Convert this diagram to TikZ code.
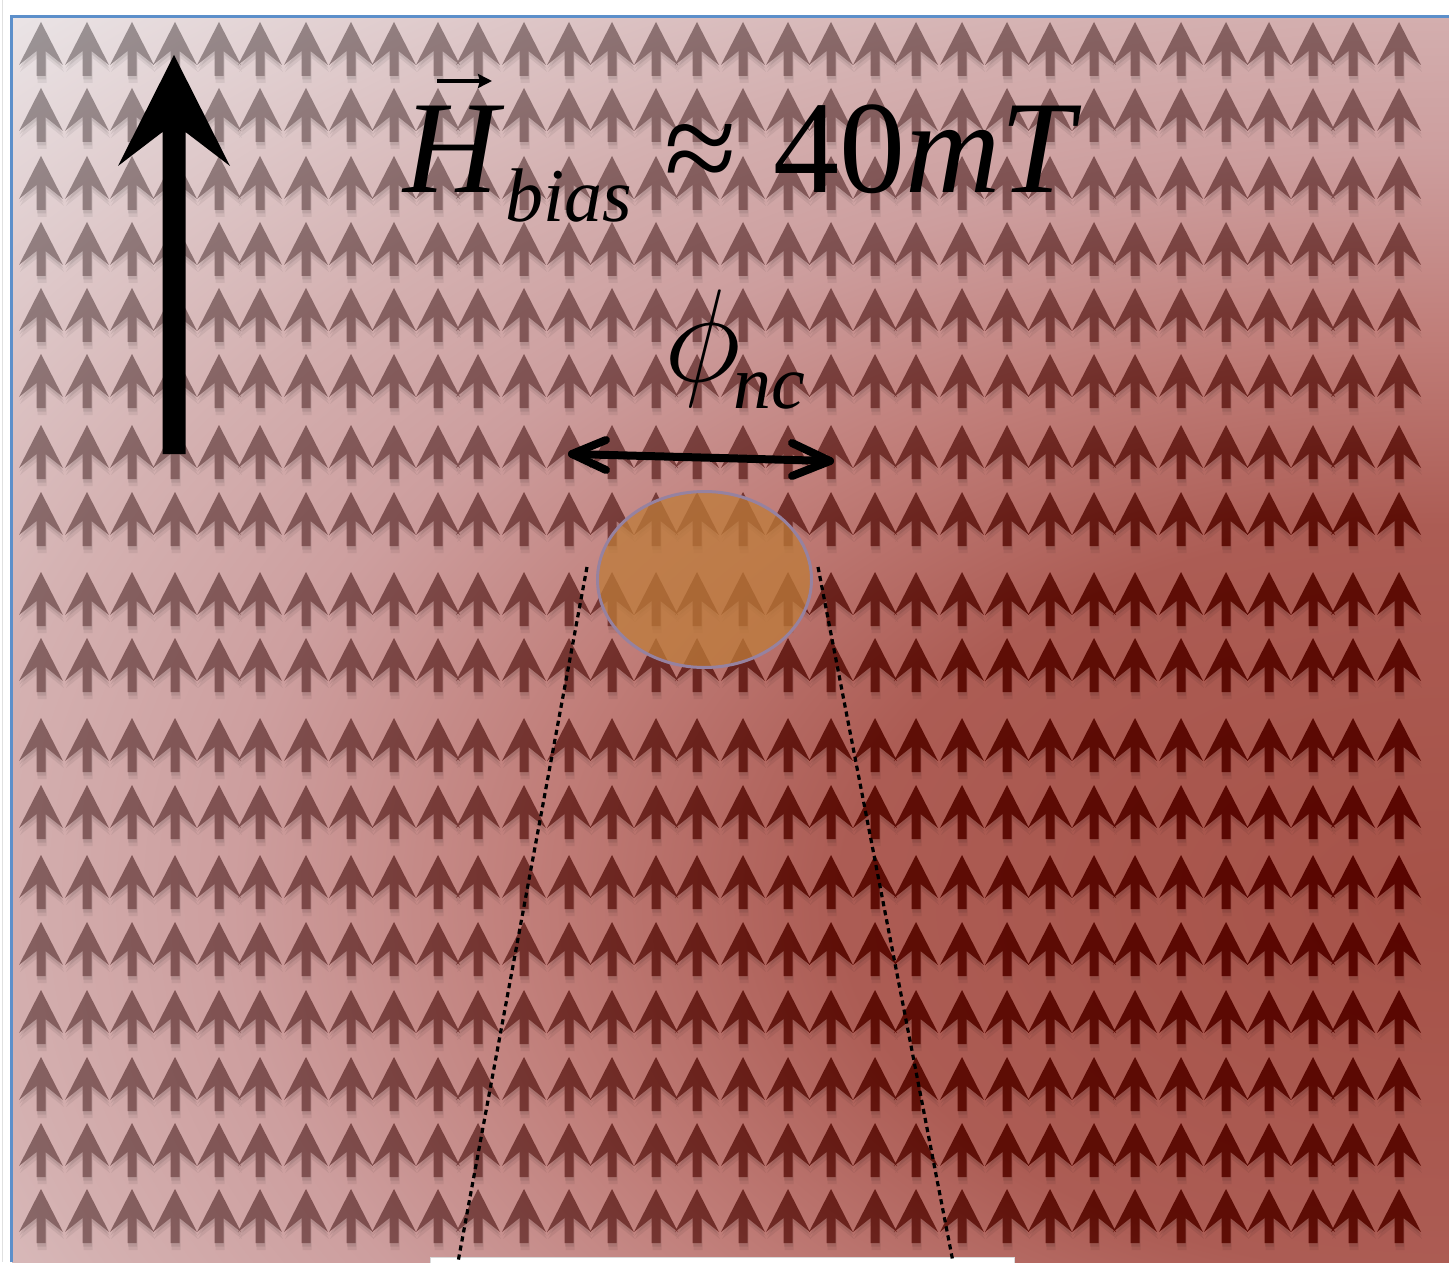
\RequirePackage{fix-cm}
\documentclass[tikz,border=0pt]{standalone}
\usepackage{fontspec}
\setmainfont{Liberation Serif}
\usetikzlibrary{shapes.geometric,arrows.meta}

\definecolor{frameblue}{RGB}{92,143,202}
\definecolor{diskfill}{RGB}{190,124,58}
\definecolor{diskedge}{RGB}{150,130,160}

% background field: elliptical gradient growing from the right edge
\pgfdeclareradialshading{fieldbg}{\pgfpointorigin}{%
  rgb(0bp)=(0.651,0.322,0.282);
  rgb(7.5bp)=(0.675,0.361,0.329);
  rgb(11.25bp)=(0.753,0.490,0.471);
  rgb(15bp)=(0.804,0.620,0.620);
  rgb(18bp)=(0.831,0.690,0.690);
  rgb(21.25bp)=(0.871,0.784,0.788);
  rgb(25bp)=(0.918,0.894,0.902);
  rgb(50bp)=(0.918,0.894,0.902)}
% the same gradient, darkened, for the spin arrows
\pgfdeclareradialshading{fieldarrow}{\pgfpointorigin}{%
  rgb(0bp)=(0.345,0.016,0.0);
  rgb(7.5bp)=(0.369,0.055,0.024);
  rgb(11.25bp)=(0.447,0.184,0.165);
  rgb(15bp)=(0.498,0.314,0.314);
  rgb(18bp)=(0.525,0.384,0.384);
  rgb(21.25bp)=(0.565,0.478,0.482);
  rgb(25bp)=(0.612,0.588,0.596);
  rgb(50bp)=(0.612,0.588,0.596)}

% grid of small up arrows (tip at each grid point), shifted by #1,#2
\newcommand\arrowfield[2]{%
  foreach \ay in {22,88,156,222,288,354,425,492,572,638,718,785,855,922,990,1057,1123,1189}{%
    foreach \ax in {41,87,132,175,219,260,306,351,394,438,478,524,569,612,656,697,743,788,831,875,916,962,1007,1050,1094,1135,1181,1226,1269,1313,1353,1399}{%
      (\ax+#1,\ay+#2) -- ++(22,43) -- ++(-17.5,-14) -- ++(0,25) -- ++(-9,0) -- ++(0,-25) -- ++(-17.5,14) -- cycle }}}

% area covered by the field gradient
\newcommand\fieldarea{(1449,900) ellipse [x radius=1015.5pt, y radius=623.7pt]}

\tikzset{
  bigtext/.style={anchor=base west, inner sep=0pt, font=\fontsize{66}{78}\selectfont},
  bigital/.style={bigtext, font=\fontsize{66}{78}\selectfont\itshape},
  subtext/.style={anchor=base west, inner sep=0pt, font=\fontsize{38}{46}\selectfont\itshape},
  dimline/.style={line width=4pt, line cap=round, line join=round},
  conelines/.style={line width=1.6pt, dash pattern=on 2.6pt off 2pt},
  fieldshape/.style={shading=#1},
}

\begin{document}
\begin{tikzpicture}[x=0.5pt,y=-0.5pt]
\useasboundingbox (0,0) rectangle (1449,1262);
\fill[white] (0,0) rectangle (1449,1262);
\draw[black!12, line width=0.5pt] (2.5,0) -- (2.5,1262);

% magnetic film background
\begin{scope}
  \clip (12,17) rectangle (1449,1262);
  \shade[fieldshape=fieldbg] \fieldarea;
\end{scope}

% soft shadows under the spin arrows
\fill[black, opacity=0.06] \arrowfield{1}{7};
\fill[black, opacity=0.08] \arrowfield{0.5}{3.5};

% spin arrows
\begin{scope}
  \clip \arrowfield{0}{0};
  \shade[fieldshape=fieldarrow] \fieldarea;
\end{scope}

% bias field arrow
\coordinate (biasTail) at (174,454);
\coordinate (biasTip) at (174,55);
\fill[black] (162.5,454) -- (162.5,132) -- (118,166) -- (biasTip) -- (230,166)
  -- (185.5,132) -- (185.5,454) -- cycle;

% nanocontact
\node (disk) [ellipse, draw=diskedge, line width=1.5pt, fill=diskfill, fill opacity=0.75,
  minimum width=107pt, minimum height=88pt, inner sep=0pt] at (704.5,579.5) {};

% diameter arrow
\coordinate (phiL) at (572,454);
\coordinate (phiR) at (830,461);
\draw[dimline] (phiL) -- (phiR);
\draw[dimline] ([shift={(34,-14)}]phiL) -- (phiL) -- ([shift={(34,16)}]phiL);
\draw[dimline] ([shift={(-38,-18)}]phiR) -- (phiR) -- ([shift={(-38,15)}]phiR);

% labels
\node[bigital] (Hsym) at (403,193) {H};
\coordinate (vecL) at (437,81);
\coordinate (vecR) at (492,81);
\draw[line width=1.8pt, -{Stealth[length=7pt,width=7pt,inset=1pt]}] (vecL) -- (vecR);
\node[subtext] (Hsub) at (505,222) {bias};
\node[bigtext] (approx) at (664,193) {≈};
\node[bigtext] (Hval) at (773,193) {40\textit{mT}};
\node[bigtext] (phi) at (664,381) {$\phi$};
\node[subtext] (phisub) at (733,408) {nc};

% lower panel edge
\fill[white] (430,1257) rectangle (1014,1263);
\draw[black!15, line width=0.5pt] (430,1263) -- (430,1257.5) -- (1014,1257.5) -- (1014,1263);

% projection cone
\coordinate (coneLtop) at (587,567);
\coordinate (coneLbot) at (458,1262);
\coordinate (coneRtop) at (818,567);
\coordinate (coneRbot) at (953,1262);
\draw[conelines] (coneLtop) -- (coneLbot);
\draw[conelines] (coneRtop) -- (coneRbot);

% frame
\draw[frameblue, line width=1.5pt] (11.3,1262) -- (11.3,16.3) -- (1449,16.3);
\end{tikzpicture}
\end{document}
